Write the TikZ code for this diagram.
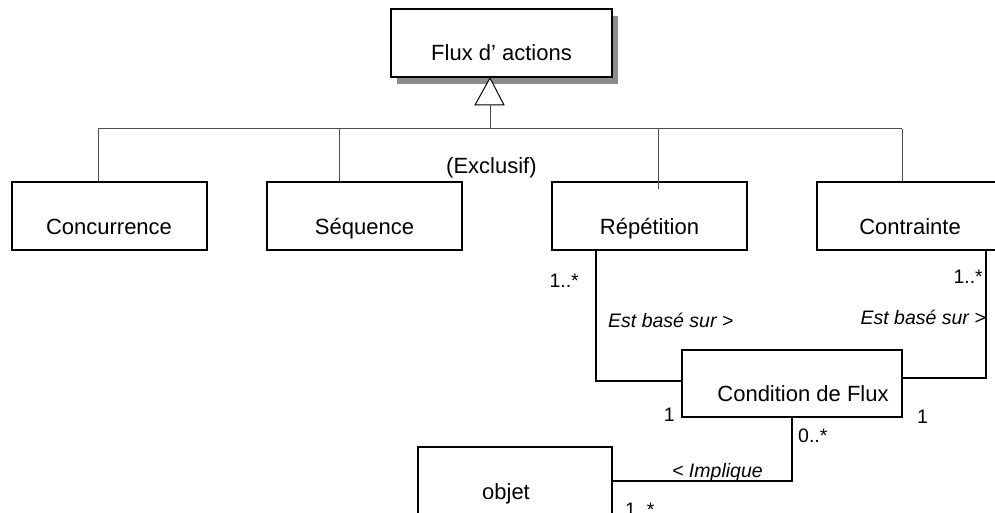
\documentclass[tikz,border=0pt]{standalone}
\usepackage{fontspec}
\setmainfont{Liberation Sans}
\usetikzlibrary{shadows}

\begin{document}
\begin{tikzpicture}[x=1pt,y=-1pt,line join=miter,
                    font=\fontsize{22}{26}\selectfont]
  \tikzstyle{box}=[draw=black,fill=white,line width=2pt,minimum height=68pt,
                   minimum width=195pt,text height=36pt,text depth=0pt,inner sep=0pt]
  \tikzstyle{gen}=[draw=black!70,line width=1pt]
  \tikzstyle{assoc}=[draw=black,line width=1.6pt]
  \tikzstyle{mult}=[inner sep=0pt,font=\fontsize{19.5}{23}\selectfont]
  \tikzstyle{role}=[inner sep=0pt,font=\fontsize{19.5}{23}\selectfont\itshape]

  \useasboundingbox (0,0) rectangle (995,513);

  \node[box, minimum width=221pt,
        drop shadow={shadow xshift=6pt,shadow yshift=-7pt,fill=black!45,opacity=1}]
                       (flux)  at (501.5,43)  {Flux d’ actions};
  \node[box]           (conc)  at (109,216)   {Concurrence};
  \node[box]           (seq)   at (364.5,216) {Séquence};
  \node[box]           (rep)   at (649.5,216) {Répétition};
  \node[box]           (contr) at (914.5,216) {\hspace*{-9pt}Contrainte};
  \node[box, minimum width=220pt, minimum height=67pt]
                       (cond)  at (792,383.5) {\hspace*{22pt}Condition de Flux};
  \node[box, minimum width=194pt]
                       (obj)   at (515,481)   {objet\hspace*{18pt}};

  \node[anchor=base west,inner sep=0pt] (excl) at (446,174) {(Exclusif)};

  % generalisation
  \coordinate (tip) at (flux.south -| 490,0);
  \coordinate (bus) at (490,129);
  \draw[line width=1pt,fill=white] (tip) -- ++(-15,27) -- ++(29,0) -- cycle;
  \draw[gen] ([yshift=-27pt]tip) -- (bus);
  \draw[gen] (bus -| 98,0) -- (bus -| 902,0);
  \draw[gen] (bus -| 98,0) -- (conc.north -| 98,0);
  \draw[gen] (bus -| 339,0) -- (seq.north -| 339,0);
  \draw[gen] (bus -| 658,0) -- ([yshift=-8pt]rep.north -| 658,0);
  \draw[gen] (bus -| 902,0) -- (contr.north -| 902,0);

  % associations
  \draw[assoc] (rep.south -| 596,0) |- (cond.west |- 0,381);
  \draw[assoc] ([yshift=2pt]contr.south -| 986,0) |- (cond.east |- 0,378);
  \draw[assoc] (cond.south) |- (obj.east);

  \node[mult,anchor=base east] (m1) at (579,287) {1..*};
  \node[role,anchor=base west] (r1) at (608,327) {Est basé sur >};
  \node[mult,anchor=base east] (m2) at (983,283) {1..*};
  \node[role,anchor=base east] (r2) at (986,324) {Est basé sur >};
  \node[mult,anchor=base east] (m3) at (675,421) {1};
  \node[mult,anchor=base west] (m4) at (917,423) {1};
  \node[mult,anchor=base west] (m5) at (798,442) {0..*};
  \node[role,anchor=base west] (r3) at (672,477) {< Implique};
  \node[mult,anchor=base west] (m6) at (625,516) {1..*};
\end{tikzpicture}
\end{document}
